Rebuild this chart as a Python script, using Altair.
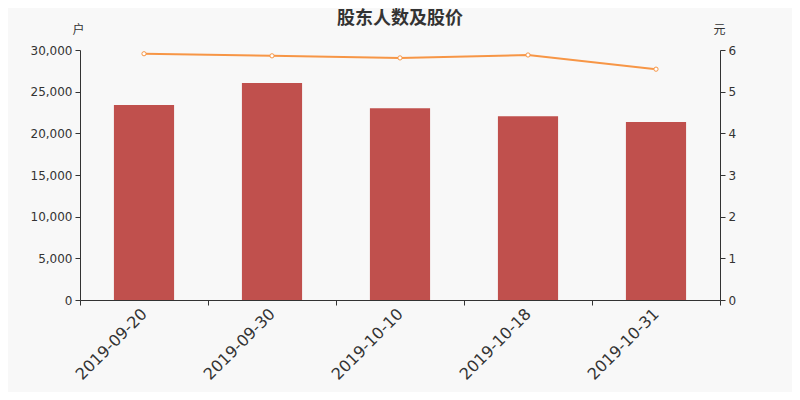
import altair as alt
import pandas as pd

dates = ["2019-09-20", "2019-09-30", "2019-10-10", "2019-10-18", "2019-10-31"]
holders = [23400, 26050, 23000, 22050, 21350]
prices = [5.91, 5.86, 5.81, 5.88, 5.54]

df = pd.DataFrame({"date": dates, "holders": holders, "price": prices})

label_font = "DejaVu Sans"
cjk_font = "Noto Sans CJK SC"
axis_color = "#333333"

x = alt.X(
    "date:N",
    sort=dates,
    title=None,
    scale=alt.Scale(paddingInner=0, paddingOuter=0),
    axis=alt.Axis(
        labelAngle=-45,
        labelAlign="right",
        labelBaseline="middle",
        labelFont=label_font,
        labelFontSize=16,
        labelColor=axis_color,
        labelPadding=6,
        tickBand="extent",
        tickSize=5,
        tickColor=axis_color,
        domainColor=axis_color,
        grid=False,
    ),
)

bars = alt.Chart(df).mark_bar(color="#c0504d", width=alt.RelativeBandSize(0.47)).encode(
    x=x,
    y=alt.Y(
        "holders:Q",
        scale=alt.Scale(domain=[0, 30000]),
        axis=alt.Axis(
            values=[0, 5000, 10000, 15000, 20000, 25000, 30000],
            format=",d",
            title="户",
            titleAngle=0,
            titleX=-2,
            titleY=-21,
            titleAlign="center",
            titleBaseline="middle",
            titleFont=cjk_font,
            titleFontSize=12,
            titleFontWeight="normal",
            titleColor=axis_color,
            labelFont=label_font,
            labelFontSize=12,
            labelColor=axis_color,
            labelPadding=3,
            tickSize=5,
            tickColor=axis_color,
            domainColor=axis_color,
            grid=False,
        ),
    ),
)

line = alt.Chart(df).mark_line(
    color="#f79646",
    strokeWidth=2,
    point=alt.OverlayMarkDef(filled=True, fill="white", stroke="#f79646", strokeWidth=1, size=18),
).encode(
    x=x,
    y=alt.Y(
        "price:Q",
        scale=alt.Scale(domain=[0, 6]),
        axis=alt.Axis(
            orient="right",
            values=[0, 1, 2, 3, 4, 5, 6],
            format="d",
            title="元",
            titleAngle=0,
            titleX=-1,
            titleY=-21,
            titleAlign="center",
            titleBaseline="middle",
            titleFont=cjk_font,
            titleFontSize=12,
            titleFontWeight="normal",
            titleColor=axis_color,
            labelFont=label_font,
            labelFontSize=12,
            labelColor=axis_color,
            labelPadding=3,
            tickSize=5,
            tickColor=axis_color,
            domainColor=axis_color,
            grid=False,
        ),
    ),
)

chart = (
    alt.layer(bars, line)
    .resolve_scale(y="independent")
    .properties(
        width=640,
        height=250,
        autosize=alt.AutoSizeParams(type="none"),
        padding={"left": 72, "top": 42, "right": 72, "bottom": 92},
        title=alt.TitleParams(
            "股东人数及股价",
            font=cjk_font,
            fontSize=18,
            fontWeight="bold",
            color=axis_color,
            anchor="middle",
            offset=-5,
        ),
    )
    .configure(background="#f8f8f8")
    .configure_view(stroke=None)
)

chart.save("out.html", embed_options={"renderer": "svg", "actions": False})
